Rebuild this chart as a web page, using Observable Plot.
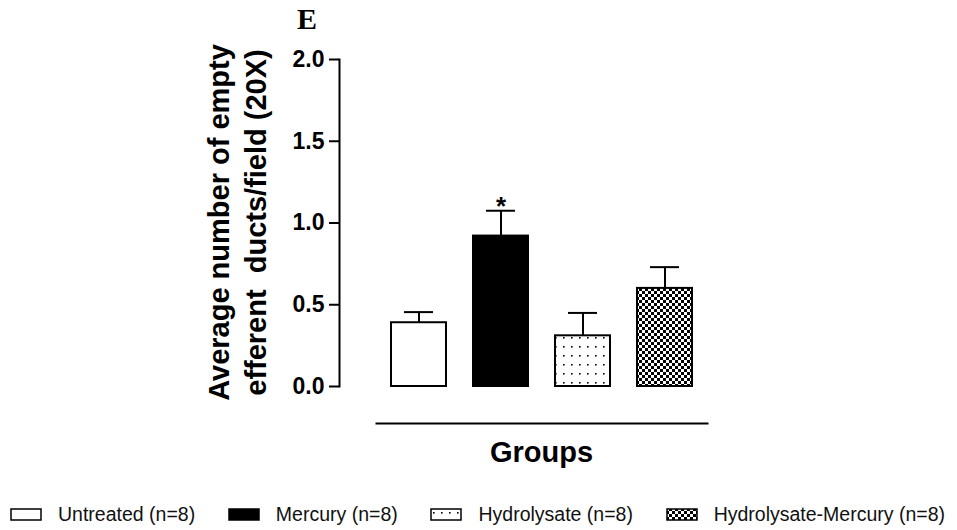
<!DOCTYPE html>
<html><head><meta charset="utf-8">
<script src="https://cdn.jsdelivr.net/npm/d3@7"></script>
<script src="https://cdn.jsdelivr.net/npm/@observablehq/plot@0.6"></script>
<style>
body{margin:0;background:#fff;font-family:"Liberation Sans",Arial,sans-serif;}
#wrap{position:relative;width:957px;height:530px;overflow:hidden;background:#fff;}
#panel{position:absolute;left:297px;top:2px;font:bold 30px "Liberation Serif","Times New Roman",serif;color:#000;}
#legend{position:absolute;left:10px;right:12px;top:497px;height:34px;display:flex;justify-content:space-between;align-items:center;font-size:19.5px;color:#111;}
.item{display:flex;align-items:center;white-space:nowrap;}
.item svg{margin-right:16px;display:block}
</style></head><body>
<svg width="0" height="0" style="position:absolute">
  <defs>
    <pattern id="dots" patternUnits="userSpaceOnUse" width="8" height="9">
      <rect width="8" height="9" fill="white"></rect>
      <rect x="3" y="4" width="1.6" height="1.6" fill="black"></rect>
    </pattern>
    <pattern id="checker" patternUnits="userSpaceOnUse" width="6" height="6">
      <rect width="6" height="6" fill="black"></rect>
      <rect x="0" y="0" width="3" height="3" fill="white"></rect>
      <rect x="3" y="3" width="3" height="3" fill="white"></rect>
    </pattern>
  </defs>
</svg>
<div id="wrap"><div id="chart"></div><div id="panel">E</div><div id="legend"></div></div>
<script>
const groups = ["Untreated", "Mercury", "Hydrolysate", "Hydrolysate-Mercury"];
const means = [0.39, 0.92, 0.31, 0.60];
const sems = [0.065, 0.155, 0.14, 0.13];
const sampleSizes = [8, 8, 8, 8];
const significance = ["", "*", "", ""];
const yTicks = [0, 0.5, 1.0, 1.5, 2.0];
const yLabel = "Average number of empty\nefferent  ducts/field (20X)";
const xLabel = "Groups";
const panelLabel = "E";

const fills = {
  "Untreated": "white",
  "Mercury": "black",
  "Hydrolysate": "url(#dots)",
  "Hydrolysate-Mercury": "url(#checker)"
};

const data = groups.map((g, i) => ({
  group: g, mean: means[i], sem: sems[i], top: means[i] + sems[i], sig: significance[i]
}));

const font = '"Liberation Sans", Arial, sans-serif';

const chart = Plot.plot({
  width: 957,
  height: 490,
  marginTop: 59,
  marginBottom: 67,
  marginLeft: 339,
  marginRight: 250,
  style: {fontFamily: font, background: "white", color: "black"},
  x: {domain: groups, paddingInner: 0.33, paddingOuter: 0.18, insetLeft: 37, axis: null},
  y: {domain: [0, 2], insetBottom: 37},
  color: {type: "identity"},
  marks: [
    Plot.axisY({ticks: yTicks, tickFormat: d3.format(".1f"), tickSize: 10, tickPadding: 5,
      fontSize: 23, fontWeight: "bold", strokeWidth: 2, label: null}),
    Plot.frame({anchor: "left", insetBottom: 37, strokeWidth: 2}),
    Plot.frame({anchor: "bottom", insetLeft: 37, strokeWidth: 2}),
    Plot.ruleX(data, {x: "group", y1: "mean", y2: "top", strokeWidth: 2}),
    Plot.tickY(data, {x: "group", y: "top", insetLeft: 13, insetRight: 13, strokeWidth: 2}),
    Plot.barY(data, {x: "group", y: "mean", fill: d => fills[d.group], stroke: "black", strokeWidth: 2}),
    Plot.text(data.filter(d => d.sig), {x: "group", y: "top", text: "sig", dy: -4, fontSize: 26, fontWeight: "bold"}),
    Plot.text([yLabel], {frameAnchor: "left", textAnchor: "middle", rotate: -90, dx: -104, dy: -19, fontSize: 29, fontWeight: "bold", lineHeight: 1.3}),
    Plot.text([xLabel], {frameAnchor: "bottom", dx: 18, dy: 38, fontSize: 29, fontWeight: "bold"})
  ]
});
document.getElementById("chart").appendChild(chart);
document.getElementById("panel").textContent = panelLabel;

const legend = d3.select("#legend");
groups.forEach((g, i) => {
  const item = legend.append("div").attr("class", "item");
  const sw = item.append("svg").attr("width", 32).attr("height", 13);
  sw.append("rect").attr("x", 1).attr("y", 1).attr("width", 30).attr("height", 11)
    .attr("fill", fills[g]).attr("stroke", "black").attr("stroke-width", 1.5);
  item.append("span").text(`${g} (n=${sampleSizes[i]})`);
});
</script>
</body></html>
